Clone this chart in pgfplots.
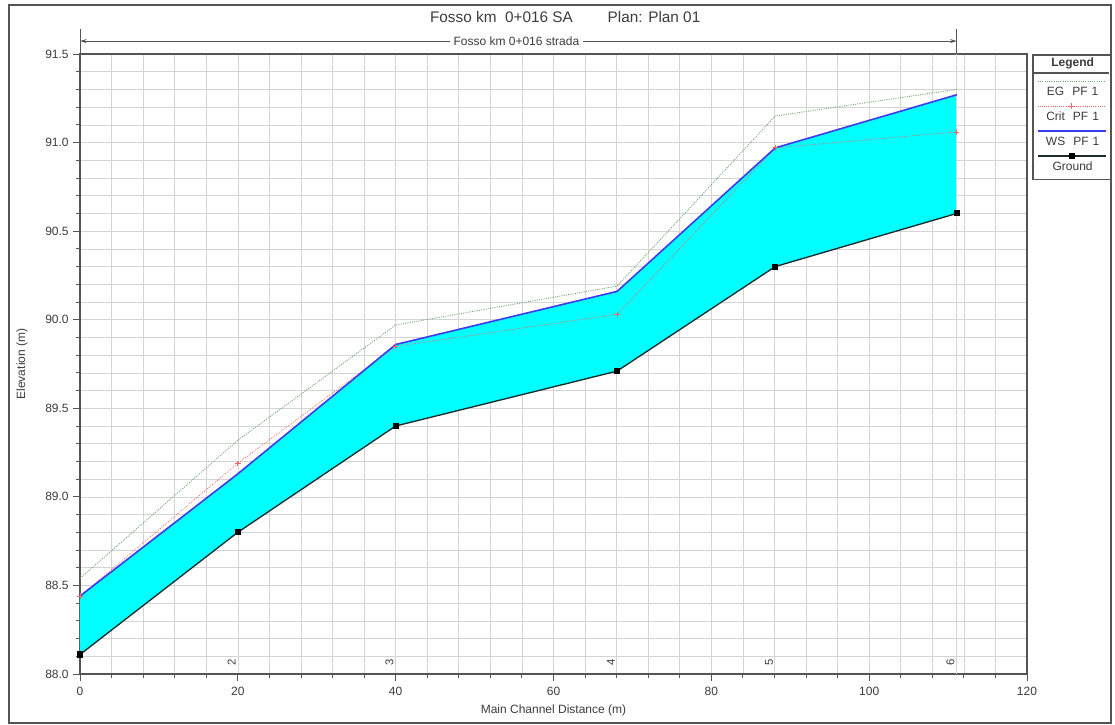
\documentclass[border=0pt]{standalone}
\usepackage{fontspec}
\setmainfont{Liberation Sans}
\usepackage{pgfplots}
\usepackage{pgfplotstable}
\pgfplotsset{compat=1.18}
\usepgfplotslibrary{fillbetween}
\usetikzlibrary{arrows.meta}

\definecolor{wscol}{RGB}{60,60,235}
\definecolor{egcol}{RGB}{110,165,110}
\definecolor{critcol}{RGB}{240,100,100}
\definecolor{groundcol}{RGB}{25,45,45}
\definecolor{gridcol}{RGB}{212,212,212}
\definecolor{axcol}{RGB}{85,85,85}
\definecolor{txtcol}{RGB}{60,60,60}
\definecolor{fillcyan}{RGB}{0,255,255}

\pgfplotstableread{
x ground ws crit eg
0 88.11 88.44 88.44 88.54
20 88.80 89.13 89.19 89.32
40 89.40 89.86 89.85 89.97
68.06 89.71 90.16 90.03 90.19
88.1 90.30 90.97 90.97 91.15
111.1 90.60 91.27 91.06 91.30
}\profiledata

\begin{document}
\begin{tikzpicture}
\path (-60pt,-38.25pt) rectangle (776.25pt,505.5pt);
\begin{axis}[
  at={(0pt,0pt)}, anchor=south west,
  scale only axis, width=710.25pt, height=465pt,
  xmin=0, xmax=120, ymin=88, ymax=91.5,
  xtick={0,20,...,120}, minor x tick num=4,
  ytick={88,88.5,...,91.5}, minor y tick num=4,
  /pgf/number format/assume math mode=true,
  y tick label style={/pgf/number format/.cd, fixed, fixed zerofill, precision=1},
  ticklabel style={font=\fontsize{9}{10}\selectfont, text=txtcol},
  xticklabel style={yshift=-1pt},
  grid=both,
  major grid style={gridcol, line width=0.5pt},
  minor grid style={gridcol, line width=0.5pt},
  axis line style={axcol, line width=1.1pt},
  tick style={axcol, line width=0.7pt},
  tick align=outside, tick pos=left,
  major tick length=5pt, minor tick length=3pt,
  xlabel={Main Channel Distance (m)},
  ylabel={Elevation (m)},
  label style={font=\fontsize{9}{10}\selectfont, text=txtcol},
  xlabel style={at={(axis description cs:0.5,-0.058)}, anchor=center},
  ylabel style={at={(axis description cs:-0.0612,0.5)}, anchor=center, rotate=0},
  clip=false,
  legend style={at={(1.00634,0.99839)}, anchor=north west,
    draw=axcol, line width=0.8pt, fill=white, inner sep=0pt, outer sep=0pt,
    row sep=0pt, column sep=0pt,
    nodes={font=\fontsize{9}{10}\selectfont, text=txtcol, text width=57pt,
      align=center, inner sep=0pt, minimum height=18.75pt, line width=0.4pt}},
  legend cell align=center,
  legend image code/.code={
    \path (0pt,0pt) -- (0.01pt,0.01pt);
    \draw[mark repeat=2,mark phase=2,#1,overlay] plot coordinates {(3pt,8.25pt)(28.5pt,8.25pt)(54pt,8.25pt)};
  },
]
\addlegendimage{legend image code/.code={\path (0pt,0pt) -- (0.01pt,0.01pt);}}
\addlegendentry[minimum height=18.375pt]{\raisebox{6.4pt}{\textbf{Legend}}}

% station grid line (river station 6)
\draw[gridcol, line width=0.5pt] (axis cs:111.1,88) -- (axis cs:111.1,91.5);

\addplot[draw=none, name path=gnd, forget plot] table[x=x,y=ground]{\profiledata};
\addplot[draw=none, name path=wsp, forget plot] table[x=x,y=ws]{\profiledata};
\addplot[fillcyan, forget plot] fill between[of=gnd and wsp];

\addplot[egcol, densely dotted, line width=0.7pt] table[x=x,y=eg]{\profiledata};
\addlegendentry{EG\ \ PF 1}
\addplot[critcol, densely dotted, line width=0.6pt, mark=+, mark size=2pt, mark options={solid}] table[x=x,y=crit]{\profiledata};
\addlegendentry{Crit\ \ PF 1}
\addplot[wscol, line width=1.2pt] table[x=x,y=ws]{\profiledata};
\addlegendentry{WS\ \ PF 1}
\addplot[groundcol, line width=1pt, mark=square*, mark size=1.8pt, mark options={black}] table[x=x,y=ground]{\profiledata};
\addlegendentry{Ground}

% station labels
\node[rotate=90, anchor=south, inner sep=1.5pt, font=\fontsize{8.5}{9}\selectfont, text=txtcol] at (axis cs:20,88.065) {2};
\node[rotate=90, anchor=south, inner sep=1.5pt, font=\fontsize{8.5}{9}\selectfont, text=txtcol] at (axis cs:40,88.065) {3};
\node[rotate=90, anchor=south, inner sep=1.5pt, font=\fontsize{8.5}{9}\selectfont, text=txtcol] at (axis cs:68.06,88.065) {4};
\node[rotate=90, anchor=south, inner sep=1.5pt, font=\fontsize{8.5}{9}\selectfont, text=txtcol] at (axis cs:88.1,88.065) {5};
\node[rotate=90, anchor=south, inner sep=1.5pt, font=\fontsize{8.5}{9}\selectfont, text=txtcol] at (axis cs:111.1,88.065) {6};
% reach bracket
\draw[axcol, line width=0.7pt] (axis cs:0,91.5) -- (axis cs:0,91.64);
\draw[axcol, line width=0.7pt] (axis cs:111.1,91.5) -- (axis cs:111.1,91.64);
\draw[axcol, line width=0.7pt, {Stealth[length=5pt,width=3pt]}-{Stealth[length=5pt,width=3pt]}] (axis cs:0,91.573) -- (axis cs:111.1,91.573);
\node[fill=white, inner sep=3pt, font=\fontsize{9}{10}\selectfont, text=txtcol] at (axis cs:55.3,91.573) {Fosso km 0+016 strada};
\end{axis}
% legend title separator
\draw[axcol, line width=0.8pt] (714.75pt,450.75pt) -- (771.75pt,450.75pt);
% title
\node[font=\fontsize{11.5}{13}\selectfont, text=txtcol] at (316.1pt,492.75pt) {Fosso km\ \ 0+016 SA};
\node[font=\fontsize{11.5}{13}\selectfont, text=txtcol] at (430.5pt,492.75pt) {Plan: Plan 01};
% outer frame
\draw[axcol, line width=1.3pt] (-53.25pt,-36.75pt) rectangle (773.25pt,501.75pt);
\end{tikzpicture}
\end{document}
